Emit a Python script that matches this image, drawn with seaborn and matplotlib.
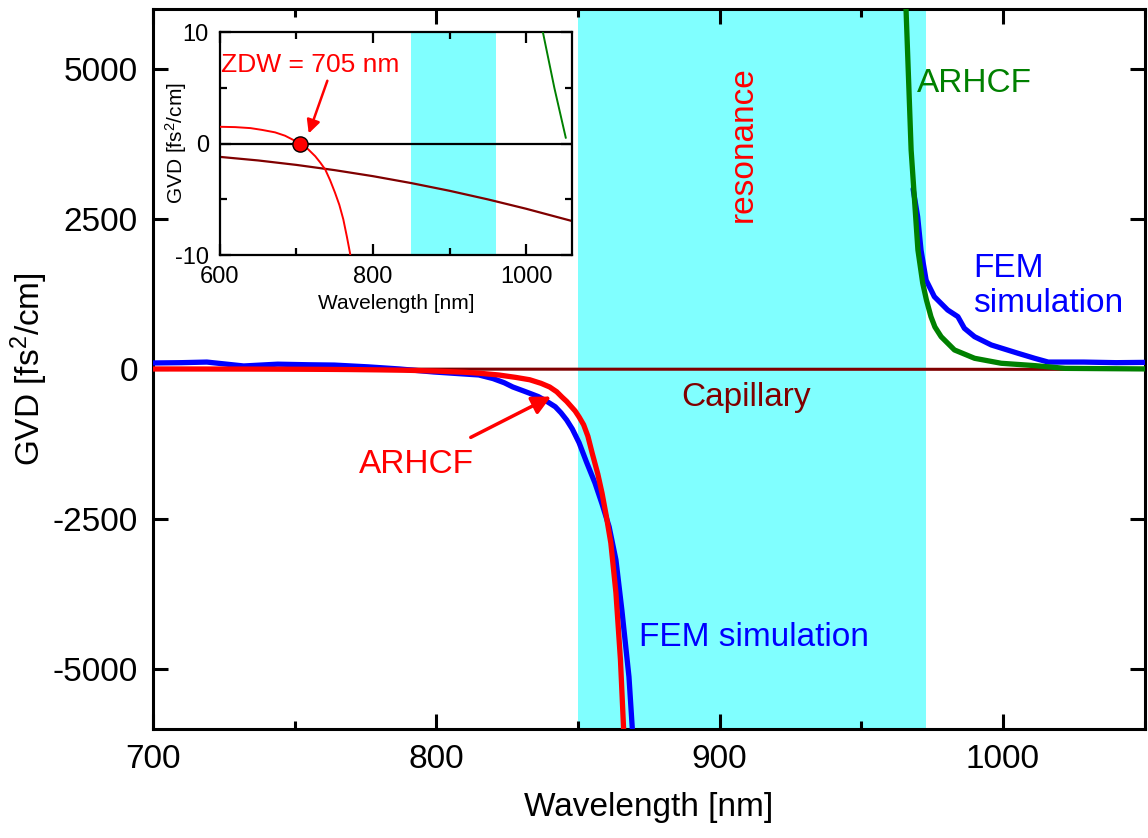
import matplotlib
matplotlib.use("Agg")
import matplotlib.pyplot as plt
from matplotlib.ticker import MultipleLocator
import pandas as pd
import seaborn as sns

# ---- GVD data: wavelength [nm], GVD [fs^2/cm] ----
# FEM simulation, short-wavelength branch (below the resonance)
fem_lo_wl = [700, 710, 719, 726, 732, 744, 755, 764, 776, 787, 799, 807, 815,
             820, 824, 827, 831, 836, 839, 842, 844, 846, 848, 850.4, 853, 856,
             858.5, 861, 863.4, 865.5, 868, 869.6]
fem_lo_gvd = [100, 105, 115, 80, 50, 80, 70, 65, 35, 0, -50, -75, -100,
              -160, -230, -300, -370, -460, -540, -630, -730, -850, -1000, -1230,
              -1550, -1900, -2250, -2630, -3180, -4020, -5130, -6300]

# FEM simulation, long-wavelength branch (above the resonance)
fem_hi_wl = [968.3, 969.9, 971.1, 972.9, 975.8, 980.5, 984.1, 986.4, 990,
             995.9, 1005.3, 1011.2, 1016, 1028.5, 1040, 1050]
fem_hi_gvd = [3000, 2540, 1980, 1480, 1205, 983, 872, 678, 538,
              400, 262, 178, 115, 115, 105, 110]

# ARHCF model, short-wavelength branch
arhcf_lo_wl = [600, 620, 640, 655, 672, 685, 695, 705, 715, 724.5, 731, 737.6,
               744, 750.3, 756, 761.2, 766, 769.9, 780, 790, 800, 810, 815, 822,
               828, 833, 837, 840, 842.5, 844.4, 846, 847.5, 849, 850.4, 852,
               853.5, 855, 857, 858.5, 860, 861.6, 863.4, 865, 866.4]
arhcf_lo_gvd = [1.5, 1.47, 1.38, 1.22, 1.0, 0.7, 0.35, 0.0, -0.5, -1.14, -1.7,
                -2.33, -3.3, -4.4, -5.5, -6.8, -8.4, -9.8, -15, -22, -35, -55, -70,
                -100, -140, -180, -240, -300, -380, -470, -540, -620, -700, -800,
                -930, -1120, -1400, -1750, -2070, -2450, -2900, -3730, -4850, -6300]

# ARHCF model, long-wavelength branch
arhcf_hi_wl = [965.6, 965.8, 967.6, 968.8, 970, 971.7, 973, 974.6, 976, 978.2,
               982.9, 990, 999.4, 1011.2, 1022, 1037, 1052]
arhcf_hi_gvd = [6300, 6000, 3650, 2817, 1983, 1428, 1150, 872, 700, 538,
                317, 178, 95, 56, 10, 5, 0.5]

# Bare capillary
cap_wl = [600, 650, 700, 750, 800, 850, 900, 950, 1000, 1030, 1060]
cap_gvd = [-1.2, -1.52, -1.92, -2.39, -2.93, -3.55, -4.24, -5.01, -5.85, -6.4, -6.95]

# ZDW marker
zdw_wl = [705]
zdw_gvd = [0]

# Resonance band limits [nm]
res_main = (850, 973)
res_inset = (850, 961)

C_FEM = "#0000FF"
C_ARHCF = "#FF0000"
C_ARHCF_HI = "#008000"
C_CAP = "#800000"
C_RES = "#80FFFF"

sns.set_theme(style="ticks")
plt.rcParams["font.family"] = ["Liberation Sans", "DejaVu Sans"]
plt.rcParams["mathtext.fontset"] = "custom"
plt.rcParams["mathtext.rm"] = "Liberation Sans"
plt.rcParams["mathtext.it"] = "Liberation Sans:italic"
plt.rcParams["axes.unicode_minus"] = False
for key in ("text.color", "axes.labelcolor", "xtick.color", "ytick.color",
            "axes.edgecolor"):
    plt.rcParams[key] = "black"

fem_lo = pd.DataFrame({"wl": fem_lo_wl, "gvd": fem_lo_gvd})
fem_hi = pd.DataFrame({"wl": fem_hi_wl, "gvd": fem_hi_gvd})
arh_lo = pd.DataFrame({"wl": arhcf_lo_wl, "gvd": arhcf_lo_gvd})
arh_hi = pd.DataFrame({"wl": arhcf_hi_wl, "gvd": arhcf_hi_gvd})
cap = pd.DataFrame({"wl": cap_wl, "gvd": cap_gvd})


def curve(a, df, color, lw, z):
    sns.lineplot(data=df, x="wl", y="gvd", ax=a, color=color, lw=lw,
                 estimator=None, sort=False, zorder=z)
    a.lines[-1].set_solid_joinstyle("round")


fig = plt.figure(figsize=(11.48, 8.38), dpi=100)
ax = fig.add_axes([0.1333, 0.1301, 0.8637, 0.8592])

ax.axvspan(*res_main, color=C_RES, lw=0, zorder=0)
curve(ax, cap, C_CAP, 2.2, 2)
curve(ax, fem_lo, C_FEM, 3.8, 3)
curve(ax, fem_hi, C_FEM, 3.8, 3)
curve(ax, arh_lo, C_ARHCF, 3.8, 4)
curve(ax, arh_hi, C_ARHCF_HI, 3.8, 5)

ax.set_xlim(700, 1050)
ax.set_ylim(-6000, 6000)
ax.xaxis.set_major_locator(MultipleLocator(100))
ax.xaxis.set_minor_locator(MultipleLocator(50))
ax.set_yticks([-5000, -2500, 0, 2500, 5000])
ax.tick_params(which="both", direction="in", top=True, right=True, width=2.2,
               labelsize=24, pad=11, color="black", labelcolor="black")
ax.tick_params(which="major", length=11)
ax.tick_params(which="minor", length=6)
for s in ax.spines.values():
    s.set_linewidth(2.2)
    s.set_color("black")
ax.set_xlabel("Wavelength [nm]", fontsize=24, labelpad=12)
ax.set_ylabel("GVD [fs$^2$/cm]", fontsize=24, labelpad=2)

# Annotations on the main axes
ax.text(908.5, 3750, "resonance", color=C_ARHCF, fontsize=24, rotation=90,
        ha="center", va="center")
ax.text(969.5, 4750, "ARHCF", color=C_ARHCF_HI, fontsize=24, ha="left", va="center")
ax.text(989.5, 1380, "FEM\nsimulation", color=C_FEM, fontsize=24, ha="left",
        va="center", linespacing=1.15)
ax.text(909.5, -480, "Capillary", color=C_CAP, fontsize=24, ha="center", va="center")
ax.text(871.5, -4480, "FEM simulation", color=C_FEM, fontsize=24, ha="left", va="center")
ax.annotate("ARHCF", xy=(840.5, -460), xytext=(793, -1600), color=C_ARHCF,
            fontsize=24, ha="center", va="center",
            arrowprops=dict(arrowstyle="-|>", color=C_ARHCF, lw=2.5,
                            mutation_scale=28, shrinkA=14, shrinkB=0))

# ---- Inset: zoom around zero GVD ----
axin = fig.add_axes([0.1916, 0.6957, 0.3066, 0.2661])
axin.set_facecolor("white")
axin.axvspan(*res_inset, color=C_RES, lw=0, zorder=0)
axin.axhline(0, color="black", lw=1.6, zorder=1)
curve(axin, cap, C_CAP, 1.6, 2)
curve(axin, arh_lo, C_ARHCF, 1.4, 4)
curve(axin, arh_hi, C_ARHCF_HI, 1.4, 5)
axin.scatter(zdw_wl, zdw_gvd, s=120, color=C_ARHCF, edgecolor="black",
             linewidth=1.0, zorder=6)
axin.annotate("ZDW = 705 nm", xy=(716, 0.9), xytext=(602, 7.0), color=C_ARHCF,
              fontsize=19, ha="left", va="center",
              arrowprops=dict(arrowstyle="-|>", color=C_ARHCF, lw=1.8,
                              mutation_scale=20, shrinkA=0, shrinkB=0,
                              relpos=(0.6, 0.0)))
axin.set_xlim(600, 1060)
axin.set_ylim(-10, 10)
axin.xaxis.set_major_locator(MultipleLocator(200))
axin.xaxis.set_minor_locator(MultipleLocator(100))
axin.yaxis.set_major_locator(MultipleLocator(10))
axin.yaxis.set_minor_locator(MultipleLocator(5))
axin.tick_params(which="both", direction="in", top=True, right=True, width=1.6,
                 labelsize=17, pad=8, color="black", labelcolor="black")
axin.tick_params(which="major", length=8)
axin.tick_params(which="minor", length=5)
for s in axin.spines.values():
    s.set_linewidth(1.6)
    s.set_color("black")
axin.set_xlabel("Wavelength [nm]", fontsize=15, labelpad=4)
axin.set_ylabel("GVD [fs$^2$/cm]", fontsize=15, labelpad=-10)

fig.savefig("out.png", dpi=100)
